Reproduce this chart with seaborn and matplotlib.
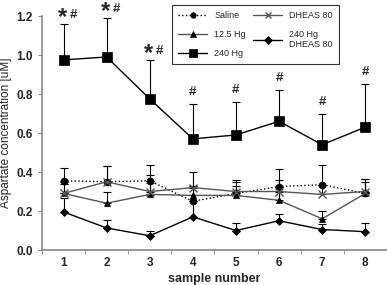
import numpy as np
import pandas as pd
import matplotlib
matplotlib.use("Agg")
import matplotlib.pyplot as plt
import seaborn as sns

samples = [1, 2, 3, 4, 5, 6, 7, 8]

saline = [0.355, 0.35, 0.355, 0.25, 0.29, 0.325, 0.335, 0.29]
saline_err = [0.065, 0.08, 0.08, 0.08, 0.06, 0.09, 0.10, 0.075]

dheas = [0.29, 0.35, 0.30, 0.32, 0.30, 0.30, 0.285, 0.30]
dheas_err = [0.06, 0.08, 0.085, 0.08, 0.06, 0.06, 0.05, 0.065]

hg125 = [0.29, 0.24, 0.285, 0.28, 0.28, 0.255, 0.16, 0.29]
hg125_err = [0.05, 0.06, 0.06, 0.05, 0.05, 0.05, 0.04, 0.06]

hg240_dheas = [0.195, 0.113, 0.073, 0.17, 0.10, 0.15, 0.105, 0.094]
hg240_dheas_err = [0.07, 0.042, 0.022, 0.08, 0.04, 0.035, 0.03, 0.046]

hg240 = [0.975, 0.99, 0.775, 0.57, 0.59, 0.66, 0.54, 0.63]
hg240_err = [0.185, 0.20, 0.20, 0.18, 0.17, 0.16, 0.16, 0.22]

marks = ["*#", "*#", "*#", "#", "#", "#", "#", "#"]

sns.set_style("white")
plt.rcParams['font.family'] = ['Liberation Sans', 'DejaVu Sans']

fig = plt.figure(figsize=(3.87, 2.85), dpi=100)
ax = fig.add_axes([0.1085, 0.1228, 0.891, 0.821])

series = [
    ("Saline", saline, saline_err, "o", ":", "black", 5),
    ("12.5 Hg", hg125, hg125_err, "^", "-", "#555555", 5),
    ("240 Hg", hg240, hg240_err, "s", "-", "black", 7),
    ("DHEAS 80", dheas, dheas_err, "x", "-", "#555555", 6),
    ("240 Hg\nDHEAS 80", hg240_dheas, hg240_dheas_err, "D", "-", "black", 4.5),
]

for name, vals, err, mk, ls, col, ms in series:
    ax.errorbar(samples, vals, yerr=[np.zeros(len(vals)), err], fmt='none',
                ecolor='black', elinewidth=0.8, capsize=3, capthick=0.8, zorder=2)
    sns.lineplot(x=samples, y=vals, marker=mk, linestyle=ls, color=col,
                 markersize=ms, markeredgecolor='black' if mk != "x" else col,
                 markerfacecolor='black', markeredgewidth=1.0 if mk == "x" else 0.5,
                 linewidth=1.0, label=name, ax=ax, zorder=3)

for x, v, e, m in zip(samples, hg240, hg240_err, marks):
    top = v + e
    if m == "*#":
        ax.text(x - 0.03, top - 0.025, "*", ha='center', va='bottom',
                fontsize=17, fontweight='bold')
        ax.text(x + 0.22, top + 0.015, "#", ha='center', va='bottom',
                fontsize=9.5, fontweight='bold')
    else:
        ax.text(x, top + 0.03, "#", ha='center', va='bottom',
                fontsize=9.5, fontweight='bold')

ax.set_xlim(0.5, 8.5)
ax.set_ylim(0, 1.2)
ax.set_xticks(samples)
ax.set_xticks(np.arange(0.5, 9, 1), minor=True)
ax.set_yticks(np.arange(0, 1.21, 0.2))
ax.set_yticklabels([f"{t:.1f}" for t in np.arange(0, 1.21, 0.2)])
ax.tick_params(axis='x', which='major', length=0, labelsize=8.5, pad=5)
ax.tick_params(axis='x', which='minor', length=3, color='#888888', direction='out', bottom=True)
ax.tick_params(axis='y', length=3, color='#888888', direction='out', left=True, labelsize=8.5)
for lab in ax.get_xticklabels() + ax.get_yticklabels():
    lab.set_fontweight('bold')

for s in ['top', 'right']:
    ax.spines[s].set_visible(False)
for s in ['left', 'bottom']:
    ax.spines[s].set_color('#888888')
    ax.spines[s].set_linewidth(1.2)

ax.set_xlabel("sample number", fontsize=9, fontweight='bold')
ax.xaxis.set_label_coords(0.5, -0.1)
ax.set_ylabel("Aspartate concentration [uM]", fontsize=8.5)
ax.yaxis.set_label_coords(-0.088, 0.5)

leg = ax.legend(ncol=2, loc='upper right', bbox_to_anchor=(0.875, 1.068), fontsize=6.5,
                frameon=True, fancybox=False, edgecolor='black', handlelength=3.2,
                columnspacing=0.8, borderpad=0.7, labelspacing=1.1, markerscale=0.8)
leg.get_frame().set_linewidth(0.8)

fig.savefig("out.png", dpi=100)
